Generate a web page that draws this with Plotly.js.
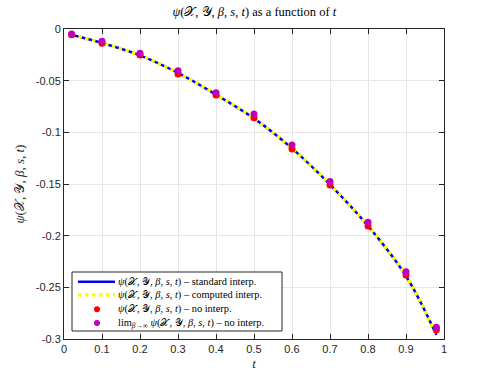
<!DOCTYPE html>
<html><head><meta charset="utf-8">
<script src="https://cdn.plot.ly/plotly-3.0.1.min.js"></script>
<style>body{margin:0;background:#fff}#c{width:491px;height:382px}</style>
</head><body><div id="c"></div>
<script>
const tPts = [0.02, 0.1, 0.2, 0.3, 0.4, 0.5, 0.6, 0.7, 0.8, 0.9, 0.98];
const psiNoInterp = [-0.0055, -0.0139, -0.0252, -0.0435, -0.0639, -0.0858, -0.1161, -0.151, -0.1906, -0.238, -0.291];
const psiLimit = [-0.0048, -0.0119, -0.0235, -0.0403, -0.0616, -0.0823, -0.1123, -0.1477, -0.187, -0.2348, -0.2887];
const tLine = [0.02, 0.1, 0.2, 0.3, 0.4, 0.5, 0.6, 0.7, 0.8, 0.9, 0.98];
const psiStandard = [-0.0055, -0.0135, -0.0255, -0.0425, -0.0635, -0.0865, -0.1155, -0.1505, -0.1905, -0.2390, -0.2960];
const psiComputed = [-0.0055, -0.0135, -0.0255, -0.0425, -0.0635, -0.0865, -0.1155, -0.1505, -0.1905, -0.2390, -0.2960];
const xTicks = [0, 0.1, 0.2, 0.3, 0.4, 0.5, 0.6, 0.7, 0.8, 0.9, 1];
const xTickText = ['0', '0.1', '0.2', '0.3', '0.4', '0.5', '0.6', '0.7', '0.8', '0.9', '1'];
const yTicks = [0, -0.05, -0.1, -0.15, -0.2, -0.25, -0.3];
const yTickText = ['0', '-0.05', '-0.1', '-0.15', '-0.2', '-0.25', '-0.3'];

const PSI = '<i>ψ</i>(𝒳, 𝒴, <i>β</i>, <i>s</i>, <i>t</i>)';
const names = [
  PSI + ' – standard interp.',
  PSI + ' – computed interp.',
  PSI + ' – no interp.',
  'lim<sub><i>β</i>→∞</sub> ' + PSI + ' – no interp.'
];
const colors = ['#0000ff', '#ffff00', '#ff0000', '#bf00bf'];

const traces = [
  {x: tLine, y: psiStandard, mode: 'lines', line: {color: colors[0], width: 2.5, shape: 'spline'}, name: names[0]},
  {x: tLine, y: psiComputed, mode: 'lines', line: {color: colors[1], width: 3.5, dash: 'dot', shape: 'spline'}, name: names[1]},
  {x: tPts, y: psiNoInterp, mode: 'markers', marker: {color: colors[2], size: 7}, name: names[2]},
  {x: tPts, y: psiLimit, mode: 'markers', marker: {color: colors[3], size: 7}, name: names[3]}
];

// custom compact legend (MATLAB style), positioned in paper coordinates
const L = 64, T = 29, W = 380, H = 310;
const px = v => (v - L) / W, py = v => (T + H - v) / H;
const rowY = [281.7, 294.7, 309.3, 323];
const shapes = [
  {type: 'rect', xref: 'paper', yref: 'paper', x0: px(72), x1: px(282), y0: py(331), y1: py(272),
   line: {color: '#262626', width: 1}, fillcolor: '#ffffff', layer: 'above'},
  {type: 'line', xref: 'paper', yref: 'paper', x0: px(78), x1: px(115), y0: py(rowY[0]), y1: py(rowY[0]),
   line: {color: colors[0], width: 2.5}, layer: 'above'},
  {type: 'line', xref: 'paper', yref: 'paper', x0: px(78), x1: px(115), y0: py(rowY[1]), y1: py(rowY[1]),
   line: {color: colors[1], width: 3.5, dash: 'dot'}, layer: 'above'},
  {type: 'circle', xref: 'paper', yref: 'paper', xsizemode: 'pixel', ysizemode: 'pixel',
   xanchor: px(97), yanchor: py(rowY[2]), x0: -3, x1: 3, y0: -3, y1: 3,
   fillcolor: colors[2], line: {width: 0}, layer: 'above'},
  {type: 'circle', xref: 'paper', yref: 'paper', xsizemode: 'pixel', ysizemode: 'pixel',
   xanchor: px(97), yanchor: py(rowY[3]), x0: -3, x1: 3, y0: -3, y1: 3,
   fillcolor: colors[3], line: {width: 0}, layer: 'above'}
];
const annotations = names.map((n, i) => ({
  xref: 'paper', yref: 'paper', x: px(116), y: py(rowY[i]), xanchor: 'left', yanchor: 'middle',
  text: n, showarrow: false, font: {family: 'Liberation Serif, serif', size: 10.4, color: '#000'}
}));

const axisCommon = {
  showline: true, mirror: 'allticks', linecolor: '#262626', linewidth: 1,
  ticks: 'inside', ticklen: 5, tickcolor: '#262626',
  showgrid: true, gridcolor: '#e6e6e6', gridwidth: 1, zeroline: false,
  tickfont: {family: 'Liberation Sans, Arial, sans-serif', size: 11, color: '#262626'}
};
const layout = {
  width: 491, height: 382,
  margin: {l: 64, r: 47, t: 29, b: 43},
  paper_bgcolor: '#ffffff', plot_bgcolor: '#ffffff',
  showlegend: false,
  title: {text: PSI + ' as a function of <i>t</i>', x: 0.518, xanchor: 'center', y: 0.97, yanchor: 'middle',
    font: {family: 'Liberation Serif, serif', size: 12.5, color: '#000'}},
  xaxis: Object.assign({}, axisCommon, {range: [0, 1], tickvals: xTicks, ticktext: xTickText,
    title: {text: '<i>t</i>', font: {family: 'Liberation Serif, serif', size: 13, color: '#262626'}, standoff: 4}}),
  yaxis: Object.assign({}, axisCommon, {range: [-0.3, 0], tickvals: yTicks, ticktext: yTickText,
    title: {text: PSI, font: {family: 'Liberation Serif, serif', size: 13, color: '#262626'}, standoff: 8}}),
  shapes: shapes,
  annotations: annotations
};
Plotly.newPlot('c', traces, layout, {displayModeBar: false, staticPlot: true});
</script></body></html>
